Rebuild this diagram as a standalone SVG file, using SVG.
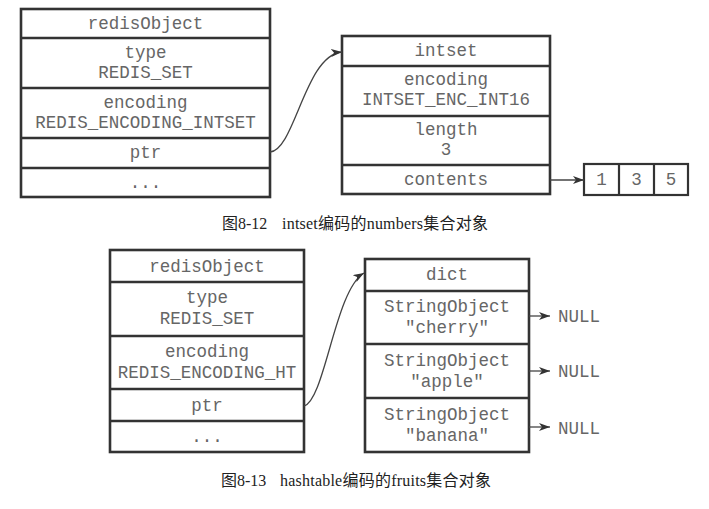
<svg xmlns="http://www.w3.org/2000/svg" width="709" height="509" viewBox="0 0 709 509">
<style>
.box{fill:#fff;stroke:#333;stroke-width:2.6}
.div{stroke:#333;stroke-width:2.6;fill:none}
.t{font-family:"Liberation Mono","DejaVu Sans Mono",monospace;font-size:17.5px;fill:#666;text-anchor:middle}
.null{font-family:"Liberation Mono","DejaVu Sans Mono",monospace;font-size:17.5px;fill:#666}
.cap{font-family:"Liberation Serif","Noto Sans CJK SC",serif;font-size:16px;fill:#222}
.conn{stroke:#444;stroke-width:1.3;fill:none;marker-end:url(#ah)}
</style>
<defs>
<marker id="ah" markerUnits="userSpaceOnUse" markerWidth="12" markerHeight="9" refX="11" refY="4" orient="auto">
<path d="M0,0 L11,4 L0,8 L3,4 z" fill="#333"/>
</marker>
</defs>
<rect width="709" height="509" fill="#fff"/>

<g id="redisObject1">
<rect class="box" x="21" y="9" width="249" height="188"/>
<path class="div" d="M21,38H270M21,88H270M21,138H270M21,168H270"/>
<text class="t" x="145.5" y="29">redisObject</text>
<text class="t" x="145.5" y="58">type</text>
<text class="t" x="145.5" y="78">REDIS_SET</text>
<text class="t" x="145.5" y="108">encoding</text>
<text class="t" x="145.5" y="128">REDIS_ENCODING_INTSET</text>
<text class="t" x="145.5" y="158">ptr</text>
<text class="t" x="145.5" y="188">...</text>
</g>

<g id="intset">
<rect class="box" x="342" y="36" width="208" height="158"/>
<path class="div" d="M342,66H550M342,116H550M342,165H550"/>
<text class="t" x="446" y="56">intset</text>
<text class="t" x="446" y="85">encoding</text>
<text class="t" x="446" y="105">INTSET_ENC_INT16</text>
<text class="t" x="446" y="135">length</text>
<text class="t" x="446" y="155">3</text>
<text class="t" x="446" y="185">contents</text>
</g>

<g id="contentsArray">
<rect class="box" x="584" y="164" width="104" height="31" style="stroke-width:2.2"/>
<path class="div" d="M619,164V195M654,164V195" style="stroke-width:2.2"/>
<text class="t" x="601.5" y="185">1</text>
<text class="t" x="636.5" y="185">3</text>
<text class="t" x="671" y="185">5</text>
</g>

<g id="redisObject2">
<rect class="box" x="110" y="250" width="194" height="202"/>
<path class="div" d="M110,282H304M110,336H304M110,389H304M110,421H304"/>
<text class="t" x="207" y="272">redisObject</text>
<text class="t" x="207" y="303">type</text>
<text class="t" x="207" y="324">REDIS_SET</text>
<text class="t" x="207" y="357">encoding</text>
<text class="t" x="207" y="378">REDIS_ENCODING_HT</text>
<text class="t" x="207" y="411">ptr</text>
<text class="t" x="207" y="442">...</text>
</g>

<g id="dict">
<rect class="box" x="365" y="259" width="164" height="193"/>
<path class="div" d="M365,291H529M365,344H529M365,398H529"/>
<text class="t" x="447" y="280">dict</text>
<text class="t" x="447" y="312">StringObject</text>
<text class="t" x="447" y="333">"cherry"</text>
<text class="t" x="447" y="366">StringObject</text>
<text class="t" x="447" y="387">"apple"</text>
<text class="t" x="447" y="420">StringObject</text>
<text class="t" x="447" y="441">"banana"</text>
</g>

<g id="nulls">
<text class="null" x="558" y="322">NULL</text>
<text class="null" x="558" y="377">NULL</text>
<text class="null" x="558" y="434">NULL</text>
</g>

<g id="connectors">
<path class="conn" d="M270,152 C295,150 305,55 342,52"/>
<path class="conn" d="M550,180 H584"/>
<path class="conn" d="M304,406 C325,400 335,290 364,273"/>
<path class="conn" d="M529,316 H550"/>
<path class="conn" d="M529,371 H550"/>
<path class="conn" d="M529,427 H550"/>
</g>

<g id="captions">
<text class="cap" x="222" y="229">图8-12</text>
<text class="cap" x="282" y="229" textLength="206" lengthAdjust="spacing">intset编码的numbers集合对象</text>
<text class="cap" x="221" y="486">图8-13</text>
<text class="cap" x="280" y="486" textLength="211" lengthAdjust="spacing">hashtable编码的fruits集合对象</text>
</g>
</svg>
